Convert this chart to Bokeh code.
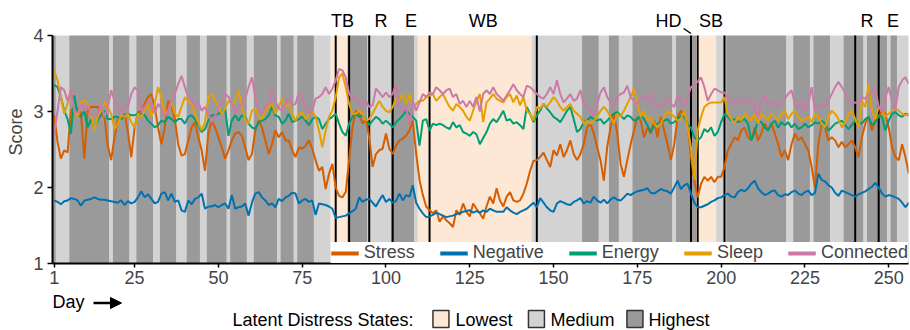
from bokeh.plotting import figure
from bokeh.layouts import column
from bokeh.models import (Range1d, FixedTicker, Legend, LegendItem, ColumnDataSource,
                          Arrow, NormalHead)
from bokeh.core.properties import value
from bokeh.embed import file_html
from bokeh.resources import INLINE

FONT = "Liberation Sans"

days = list(range(1, 257))

stress = [
    2.95, 2.60, 2.38, 2.49, 2.46, 3.01, 3.06, 3.04, 2.97, 2.38,
    3.01, 3.06, 3.06, 3.06, 2.95, 2.93, 2.55, 2.36, 2.66, 2.90,
    2.90, 2.97, 2.73, 2.40, 2.79, 2.99, 3.01, 3.10, 3.19, 3.23,
    3.06, 2.79, 2.57, 2.79, 3.14, 3.08, 2.90, 2.57, 2.42, 2.44,
    2.62, 2.79, 2.86, 2.66, 2.49, 2.22, 2.71, 2.88, 2.79, 2.66,
    2.53, 2.38, 2.49, 2.62, 2.71, 2.73, 2.68, 2.53, 2.36, 2.44,
    2.75, 2.88, 2.79, 2.62, 2.44, 2.57, 2.75, 2.66, 2.73, 2.62,
    2.62, 2.49, 2.40, 2.53, 2.51, 2.55, 2.62, 2.51, 2.36, 2.22,
    2.27, 1.98, 2.18, 2.31, 2.00, 1.89, 1.87, 1.94, 2.36, 2.79,
    3.01, 2.97, 2.84, 2.90, 2.66, 2.27, 2.44, 2.49, 2.51, 2.71,
    2.51, 2.44, 2.55, 2.62, 2.64, 2.68, 2.75, 2.88, 2.45, 2.10,
    1.90, 1.75, 1.70, 1.66, 1.70, 1.55, 1.62, 1.57, 1.53, 1.48,
    1.70, 1.64, 1.79, 1.68, 1.62, 1.79, 1.72, 1.66, 1.59, 1.75,
    1.88, 1.79, 1.99, 1.83, 1.75, 1.88, 1.94, 1.83, 1.81, 1.83,
    1.92, 2.05, 2.22, 2.35, 2.36, 2.40, 2.46, 2.36, 2.27, 2.49,
    2.42, 2.57, 2.40, 2.49, 2.62, 2.44, 2.36, 2.44, 2.57, 2.79,
    2.84, 2.71, 2.53, 2.36, 2.09, 2.53, 2.79, 2.97, 2.71, 2.31,
    2.14, 2.36, 2.57, 2.75, 2.93, 2.88, 2.66, 2.79, 2.71, 2.88,
    2.66, 2.93, 2.75, 2.57, 2.36, 2.57, 2.93, 3.01, 2.97, 2.84,
    2.40, 2.09, 1.87, 2.05, 2.14, 2.09, 2.14, 2.07, 2.14, 2.14,
    2.27, 2.49, 2.57, 2.66, 2.62, 2.75, 2.79, 2.66, 2.62, 2.79,
    2.62, 2.71, 2.84, 2.75, 2.84, 2.71, 2.57, 2.40, 2.49, 2.36,
    2.57, 2.71, 2.62, 2.66, 2.57, 2.49, 2.27, 2.00, 2.57, 2.84,
    2.79, 2.62, 2.66, 2.62, 2.53, 2.60, 2.53, 2.57, 2.62, 2.53,
    2.40, 2.66, 2.84, 2.93, 2.75, 2.88, 2.93, 3.01, 2.97, 2.79,
    2.53, 2.40, 2.36, 2.57, 2.40, 2.18,
]

negative = [
    1.83, 1.81, 1.78, 1.82, 1.83, 1.86, 1.85, 1.83, 1.76, 1.83,
    1.84, 1.85, 1.87, 1.85, 1.84, 1.84, 1.83, 1.82, 1.81, 1.80,
    1.83, 1.77, 1.82, 1.79, 1.81, 1.87, 1.95, 1.87, 1.91, 1.85,
    1.79, 1.81, 1.92, 1.94, 1.83, 1.92, 1.81, 1.83, 1.70, 1.68,
    1.83, 1.78, 1.85, 1.87, 1.92, 1.72, 1.75, 1.75, 1.77, 1.74,
    1.77, 1.79, 1.72, 1.90, 1.72, 1.74, 1.75, 1.79, 1.63, 1.80,
    1.92, 1.94, 1.87, 1.83, 1.77, 1.79, 1.74, 1.85, 1.82, 1.87,
    1.89, 1.93, 1.92, 1.79, 1.83, 1.85, 1.81, 1.83, 1.64, 1.79,
    1.78, 1.77, 1.75, 1.72, 1.60, 1.61, 1.62, 1.63, 1.66, 1.69,
    1.72, 1.87, 1.81, 1.84, 1.85, 1.80, 1.75, 1.83, 1.90, 1.81,
    1.85, 1.80, 1.82, 1.92, 1.83, 1.90, 1.88, 2.03, 1.80, 1.72,
    1.66, 1.61, 1.62, 1.64, 1.67, 1.65, 1.63, 1.61, 1.62, 1.63,
    1.65, 1.66, 1.68, 1.69, 1.70, 1.67, 1.69, 1.67, 1.70, 1.68,
    1.72, 1.70, 1.68, 1.68, 1.68, 1.74, 1.70, 1.67, 1.65, 1.68,
    1.70, 1.72, 1.76, 1.80, 1.74, 1.86, 1.80, 1.74, 1.70, 1.68,
    1.79, 1.82, 1.80, 1.78, 1.77, 1.81, 1.83, 1.86, 1.79, 1.82,
    1.80, 1.88, 1.83, 1.80, 1.84, 1.79, 1.84, 1.87, 1.84, 1.83,
    1.87, 1.92, 1.90, 1.93, 1.95, 1.96, 1.97, 1.99, 1.93, 1.92,
    1.95, 1.98, 1.96, 1.95, 1.92, 2.00, 2.09, 1.98, 2.03, 2.05,
    1.92, 1.80, 1.74, 1.74, 1.76, 1.78, 1.81, 1.83, 1.86, 1.87,
    1.90, 1.92, 1.88, 1.87, 1.94, 1.97, 1.95, 1.99, 2.05, 2.09,
    1.99, 1.94, 1.90, 1.92, 1.95, 1.96, 1.90, 1.88, 1.91, 1.90,
    1.94, 1.96, 1.92, 1.90, 1.94, 1.96, 1.90, 1.93, 2.18, 2.10,
    2.08, 2.03, 2.00, 1.93, 1.89, 1.96, 1.94, 1.92, 1.90, 1.88,
    1.91, 1.93, 1.95, 1.98, 2.01, 2.06, 2.00, 1.92, 1.88, 1.90,
    1.89, 1.87, 1.85, 1.80, 1.74, 1.80,
]

energy = [
    3.35, 3.32, 3.19, 3.01, 2.90, 2.71, 3.21, 2.95, 2.93, 3.01,
    2.79, 2.90, 2.79, 2.88, 2.97, 3.01, 2.90, 2.90, 2.93, 2.93,
    2.90, 2.95, 2.97, 2.95, 2.95, 2.97, 2.97, 2.95, 2.88, 2.84,
    2.79, 2.82, 2.88, 2.86, 2.93, 2.90, 2.86, 2.90, 2.90, 2.84,
    2.93, 2.95, 2.90, 2.82, 2.73, 2.77, 2.88, 2.95, 2.95, 2.97,
    2.99, 3.04, 2.68, 2.88, 2.95, 2.88, 2.95, 2.93, 2.84, 2.79,
    2.77, 2.86, 2.88, 2.90, 2.95, 3.06, 2.95, 2.93, 2.84, 2.88,
    2.97, 2.86, 2.88, 2.90, 2.93, 2.88, 2.82, 2.90, 2.93, 2.90,
    2.77, 2.84, 2.90, 2.93, 2.97, 2.84, 2.73, 2.68, 2.84, 2.93,
    2.97, 2.93, 2.95, 2.90, 2.82, 2.88, 2.93, 2.90, 2.84, 2.88,
    2.84, 2.79, 2.86, 2.90, 2.95, 3.01, 2.97, 2.93, 2.88, 2.55,
    2.88, 2.90, 2.75, 2.84, 2.82, 2.84, 2.82, 2.79, 2.77, 2.86,
    2.79, 2.82, 2.73, 2.71, 2.68, 2.73, 2.70, 2.57, 2.65, 2.73,
    2.84, 2.90, 2.86, 2.93, 3.01, 2.88, 2.90, 2.84, 2.86, 2.82,
    2.77, 3.06, 2.97, 2.86, 2.95, 3.01, 3.10, 3.04, 2.99, 2.93,
    2.90, 2.86, 2.93, 3.01, 3.06, 2.90, 2.73, 2.77, 2.86, 2.88,
    2.93, 2.90, 2.88, 2.90, 2.84, 2.88, 2.93, 2.97, 2.99, 2.95,
    2.90, 2.95, 2.93, 2.88, 2.90, 2.95, 2.90, 2.82, 2.73, 2.82,
    2.84, 2.86, 2.88, 2.90, 2.84, 2.86, 2.90, 2.95, 2.93, 2.82,
    2.79, 2.66, 2.62, 2.66, 2.77, 2.73, 2.79, 2.68, 2.73, 2.86,
    2.97, 2.93, 2.88, 2.90, 2.86, 2.88, 2.90, 2.84, 2.62, 2.73,
    2.88, 2.86, 2.79, 2.75, 2.84, 2.88, 2.79, 2.86, 2.82, 2.86,
    2.79, 2.84, 2.77, 2.79, 2.84, 2.79, 2.82, 2.86, 2.84, 2.88,
    2.84, 2.75, 2.79, 2.84, 2.86, 2.88, 2.82, 2.77, 2.82, 2.88,
    2.86, 2.84, 2.90, 2.93, 2.82, 2.86, 2.95, 2.93, 2.75, 2.88,
    2.97, 2.99, 2.95, 2.93, 2.97, 2.95,
]

sleep = [
    3.54, 3.41, 3.19, 2.97, 3.10, 3.28, 3.01, 2.93, 3.12, 3.14,
    3.10, 2.97, 2.75, 2.93, 3.01, 3.12, 3.06, 2.97, 2.77, 2.84,
    2.95, 2.93, 2.97, 2.86, 2.79, 2.97, 2.93, 3.01, 3.10, 2.93,
    3.10, 3.32, 3.19, 2.97, 3.01, 3.12, 2.97, 2.93, 3.06, 3.19,
    3.14, 3.10, 2.97, 2.86, 2.75, 2.86, 3.19, 3.23, 3.14, 3.06,
    2.97, 3.04, 3.14, 3.10, 3.12, 3.28, 3.06, 2.90, 2.84, 3.01,
    3.04, 2.93, 2.90, 3.01, 3.06, 3.10, 2.97, 3.06, 3.17, 3.06,
    3.10, 2.97, 2.88, 2.97, 2.99, 2.90, 2.95, 3.01, 2.93, 2.75,
    2.53, 2.75, 2.93, 3.01, 3.19, 3.45, 3.50, 3.32, 3.10, 2.97,
    2.97, 3.01, 2.97, 2.88, 2.90, 2.97, 3.06, 3.14, 3.06, 3.01,
    2.99, 3.06, 3.17, 3.14, 3.23, 3.10, 3.23, 3.06, 3.10, 3.14,
    3.14, 3.19, 3.21, 3.23, 3.14, 3.19, 3.23, 3.14, 3.06, 3.01,
    3.10, 3.06, 3.01, 2.93, 2.88, 3.01, 3.14, 3.23, 2.86, 3.12,
    3.17, 3.23, 3.17, 3.14, 3.12, 3.19, 3.23, 3.12, 3.21, 3.08,
    3.19, 3.01, 2.97, 2.88, 3.06, 3.04, 3.10, 3.06, 3.12, 3.19,
    3.14, 3.06, 3.01, 3.06, 3.10, 3.01, 2.97, 2.93, 2.84, 2.88,
    2.84, 2.88, 2.93, 3.01, 3.06, 3.01, 2.93, 2.84, 2.97, 2.93,
    3.01, 3.10, 3.19, 3.30, 3.10, 2.93, 3.01, 2.88, 2.93, 2.84,
    2.79, 2.84, 2.93, 3.01, 2.97, 2.93, 2.88, 2.90, 3.01, 2.79,
    2.53, 2.10, 2.75, 2.93, 3.06, 3.10, 3.12, 3.12, 3.12, 3.12,
    3.19, 2.97, 2.90, 2.84, 2.93, 2.88, 2.97, 2.93, 2.88, 2.97,
    2.84, 2.97, 2.93, 2.88, 2.97, 2.93, 2.88, 2.97, 3.01, 2.90,
    2.97, 3.01, 2.93, 2.88, 2.90, 2.93, 2.86, 2.97, 2.93, 2.84,
    2.79, 2.93, 3.01, 2.97, 2.90, 2.79, 2.86, 2.97, 3.01, 2.90,
    2.79, 3.14, 3.06, 3.36, 3.01, 2.90, 3.06, 3.01, 2.93, 2.97,
    3.01, 3.04, 3.01, 2.97, 2.95, 2.97,
]

connected = [
    2.71, 3.01, 3.32, 3.28, 3.14, 3.28, 3.01, 2.97, 3.10, 3.01,
    3.08, 2.97, 2.93, 2.97, 3.10, 2.93, 3.06, 3.28, 3.14, 3.01,
    2.97, 3.10, 3.06, 3.23, 3.32, 3.28, 3.01, 3.06, 3.14, 3.10,
    2.97, 3.10, 3.04, 2.93, 3.01, 3.14, 3.23, 3.36, 3.47, 3.32,
    3.19, 3.14, 3.06, 3.12, 3.01, 3.06, 2.97, 2.86, 2.93, 3.06,
    3.10, 3.23, 3.19, 3.10, 2.97, 3.06, 3.10, 3.17, 3.32, 3.45,
    3.19, 3.01, 2.97, 3.06, 3.10, 3.28, 3.14, 3.04, 3.01, 3.10,
    3.19, 3.08, 3.10, 3.25, 3.19, 3.06, 2.97, 3.01, 3.17, 3.19,
    3.23, 3.32, 3.23, 3.30, 3.41, 3.56, 3.54, 3.45, 3.23, 3.17,
    3.19, 3.12, 3.06, 3.14, 3.06, 3.08, 3.30, 3.25, 3.19, 3.25,
    3.19, 3.23, 3.36, 3.06, 2.99, 3.06, 2.82, 3.14, 3.01, 3.12,
    3.23, 3.19, 3.25, 3.23, 3.32, 3.28, 3.23, 3.28, 3.30, 3.19,
    3.23, 3.10, 3.14, 3.06, 3.14, 3.06, 3.19, 3.00, 3.23, 3.28,
    3.23, 3.32, 3.23, 3.19, 3.14, 3.21, 3.28, 3.36, 3.28, 3.23,
    3.19, 3.34, 3.32, 3.28, 3.23, 3.19, 3.17, 3.23, 3.32, 3.23,
    3.41, 3.23, 3.12, 3.17, 3.23, 3.14, 3.17, 3.28, 3.10, 3.06,
    3.01, 2.95, 3.10, 3.25, 3.32, 3.19, 3.12, 3.08, 3.19, 3.23,
    3.25, 3.34, 3.19, 3.14, 3.10, 3.17, 3.19, 3.14, 3.25, 3.06,
    3.10, 3.06, 3.14, 3.19, 3.10, 3.06, 3.21, 3.12, 3.06, 3.19,
    3.32, 3.36, 3.39, 3.45, 3.32, 3.14, 3.23, 3.30, 3.28, 3.25,
    3.25, 3.19, 3.10, 3.14, 3.12, 3.17, 3.10, 3.14, 3.17, 3.06,
    2.93, 3.14, 3.23, 3.08, 3.10, 3.14, 3.06, 3.12, 3.17, 3.23,
    3.28, 3.10, 3.06, 3.12, 3.01, 3.10, 3.32, 3.01, 3.06, 3.10,
    3.06, 3.14, 3.23, 3.32, 3.39, 3.32, 3.25, 3.14, 3.10, 3.12,
    3.10, 3.19, 3.17, 3.21, 3.28, 3.30, 3.06, 3.01, 3.19, 3.32,
    3.14, 3.03, 3.32, 3.41, 3.45, 3.36,
]

series_names = ["Stress", "Negative", "Energy", "Sleep", "Connected"]
series_values = [stress, negative, energy, sleep, connected]
series_colors = ["#D55E00", "#0072B2", "#009E73", "#E69F00", "#CC79A7"]

# latent distress state runs (first day, last day, state)
run_start = [1, 2, 6, 18, 19, 24, 26, 31, 33, 38, 41, 45, 47, 53, 54, 59, 61, 68, 69, 73,
             74, 79, 84, 89, 95, 102, 109, 110, 144, 159, 164, 167, 170, 174, 186, 187, 193, 199, 202, 220,
             222, 227, 228, 233, 237, 243, 244, 250, 251, 253]
run_end = [1, 5, 17, 18, 23, 25, 30, 32, 37, 40, 44, 46, 52, 53, 58, 60, 67, 68, 72, 73,
           78, 83, 88, 94, 101, 108, 109, 143, 158, 163, 166, 169, 173, 185, 186, 192, 198, 201, 219, 221,
           226, 227, 232, 236, 242, 243, 249, 250, 252, 256]
run_state = ["Highest", "Medium", "Highest", "Medium", "Highest", "Medium", "Highest", "Medium", "Highest", "Medium",
             "Highest", "Medium", "Highest", "Medium", "Highest", "Medium", "Highest", "Medium", "Highest", "Medium",
             "Highest", "Medium", "Lowest", "Highest", "Medium", "Highest", "Medium", "Lowest", "Medium", "Highest",
             "Medium", "Highest", "Medium", "Highest", "Medium", "Highest", "Lowest", "Medium", "Highest", "Medium",
             "Highest", "Medium", "Highest", "Medium", "Highest", "Medium", "Highest", "Medium", "Highest", "Medium"]
state_names = ["Lowest", "Medium", "Highest"]
state_colors = {"Lowest": "#FDE8D5", "Medium": "#D3D3D3", "Highest": "#9A9A9A"}

# events
event_days = [85, 89, 95, 102, 113, 145, 191, 193, 201, 240, 247]
event_labels = ["TB", "R", "E", "WB", "HD", "SB", "R", "E"]
event_label_days = [87, 98.5, 107.5, 129, 184.3, 197, 243.5, 251.3]

y_ticks = [1, 2, 3, 4]
x_ticks = [1, 25, 50, 75, 100, 125, 150, 175, 200, 225, 250]

# ---------------------------------------------------------------
PX_PER_UNIT = 76.0
PX_PER_DAY = 3.352
y_top = 1 + 263 / PX_PER_UNIT
x_range = Range1d(0.5, 255.9)
p = figure(width=910, height=292, output_backend="svg", toolbar_location=None,
           x_range=x_range, y_range=Range1d(1, y_top),
           min_border_left=52, min_border_right=2, min_border_top=0, min_border_bottom=29,
           background_fill_color="white", border_fill_color="white")
p.outline_line_color = None
p.grid.visible = False

bg = ColumnDataSource(dict(
    left=[s - 0.5 for s in run_start],
    right=[e + 0.5 for e in run_end],
    color=[state_colors[s] for s in run_state],
))
p.quad(left="left", right="right", bottom=1, top=4, fill_color="color", line_color=None, source=bg)

p.segment(x0=event_days, x1=event_days, y0=[1] * len(event_days), y1=[4] * len(event_days),
          line_color="black", line_width=2)

label_y = 1 + (263 - 20) / PX_PER_UNIT
p.text(x=event_label_days, y=[label_y] * len(event_label_days), text=event_labels,
       text_font=value(FONT), text_font_size="18px", text_align="center",
       text_baseline="middle", text_color="black")
hd_day = event_days[6]
p.segment(x0=[hd_day - 2.2], y0=[1 + (263 - 28) / PX_PER_UNIT],
          x1=[hd_day], y1=[1 + (263 - 33) / PX_PER_UNIT], line_color="black", line_width=1.5)

nan = float("nan")
legend_items = []
for name, vals, col in zip(series_names, series_values, series_colors):
    p.line(days, vals, line_color=col, line_width=2)
    swatch = p.line([days[0], days[1]], [nan, nan], line_color=col, line_width=4)
    legend_items.append(LegendItem(label=name, renderers=[swatch]))

legend = Legend(items=legend_items, location="bottom_right", orientation="horizontal",
                margin=0, padding=4, spacing=25, glyph_width=28, glyph_height=18,
                label_height=18, label_standoff=5, label_text_font=FONT,
                label_text_font_size="18px", background_fill_color="white",
                background_fill_alpha=1.0, border_line_color=None)
p.add_layout(legend)

# axes
p.yaxis.ticker = FixedTicker(ticks=y_ticks)
p.yaxis.bounds = (1, 4)
p.yaxis.axis_label = "Score"
p.yaxis.axis_label_text_font = FONT
p.yaxis.axis_label_text_font_size = "18px"
p.yaxis.axis_label_text_font_style = "normal"
p.yaxis.axis_label_standoff = 4
p.yaxis.major_label_text_font = FONT
p.yaxis.major_label_text_font_size = "18px"
p.yaxis.major_label_standoff = 4
p.yaxis.axis_line_width = 2
p.yaxis.major_tick_line_width = 1.5
p.yaxis.major_tick_out = 5
p.yaxis.major_tick_in = 0
p.yaxis.minor_tick_line_color = None

p.xaxis.ticker = FixedTicker(ticks=x_ticks)
p.xaxis.major_label_text_font = FONT
p.xaxis.major_label_text_font_size = "18px"
p.xaxis.major_label_standoff = 3
p.xaxis.axis_line_width = 2
p.xaxis.major_tick_line_width = 1.5
p.xaxis.major_tick_out = 4
p.xaxis.major_tick_in = 0
p.xaxis.minor_tick_line_color = None

# ---------------- bottom strip: "Day ->" and state key ----------------
TOP = 292  # canvas y of the strip's top edge
p2 = figure(width=910, height=38, output_backend="svg", toolbar_location=None,
            x_range=x_range, y_range=Range1d(38, 0),
            x_axis_type=None, y_axis_type=None,
            min_border_left=52, min_border_right=2, min_border_top=0, min_border_bottom=0,
            background_fill_color="white", border_fill_color="white")
p2.outline_line_color = None
p2.grid.visible = False


def xd(px):
    return 0.5 + (px - 52) / PX_PER_DAY


def ys(px):
    return px - TOP


p2.text(x=[xd(52)], y=[ys(301.5)], text=["Day"], text_font=value(FONT), text_font_size="18px",
        text_align="left", text_baseline="middle", text_color="black")
p2.add_layout(Arrow(end=NormalHead(size=11, fill_color="black", line_color="black"),
                    x_start=xd(93), y_start=ys(302.5), x_end=xd(121), y_end=ys(302.5),
                    line_width=2.5, line_color="black"))

p2.text(x=[xd(232)], y=[ys(319)], text=["Latent Distress States:"], text_font=value(FONT),
        text_font_size="18px", text_align="left", text_baseline="middle", text_color="black")
sw_left = [432.5, 528, 626.5]
txt_left = [455, 550, 648]
p2.quad(left=[xd(v) for v in sw_left], right=[xd(v + 16) for v in sw_left],
        top=[ys(310)] * 3, bottom=[ys(327)] * 3,
        fill_color=[state_colors[n] for n in state_names], line_color="#333333", line_width=1.5)
p2.text(x=[xd(v) for v in txt_left], y=[ys(319)] * 3, text=state_names, text_font=value(FONT),
        text_font_size="18px", text_align="left", text_baseline="middle", text_color="black")

layout = column(p, p2, spacing=0)
open("out.html", "w").write(file_html(layout, INLINE))
